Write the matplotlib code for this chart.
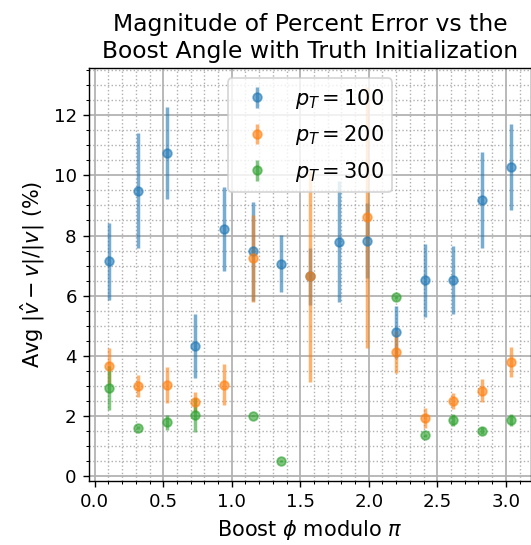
import numpy as np
import matplotlib
matplotlib.use("Agg")
import matplotlib.pyplot as plt

# boost angle bin centres (phi mod pi)
phi_bins = [0.105, 0.314, 0.524, 0.733, 0.942, 1.152, 1.361, 1.571,
            1.780, 1.990, 2.199, 2.409, 2.618, 2.827, 3.037]

nan = np.nan

# mean percent error and spread per pT sample
err_pt100 = [7.14, 9.49, 10.74, 4.33, 8.22, 7.47, 7.07, 6.64,
             7.80, 7.83, 4.79, 6.51, 6.51, 9.19, 10.28]
std_pt100 = [1.28, 1.90, 1.54, 1.07, 1.39, 1.63, 0.96, 0.95,
             2.00, 1.25, 0.87, 1.20, 1.13, 1.60, 1.42]

err_pt200 = [3.67, 3.01, 3.04, 2.48, 3.04, 7.24, nan, 6.65,
             nan, 8.60, 4.13, 1.95, 2.51, 2.84, 3.80]
std_pt200 = [0.60, 0.37, 0.60, 0.33, 0.68, 1.45, nan, 3.50,
             nan, 4.34, 0.69, 0.33, 0.27, 0.38, 0.50]

err_pt300 = [2.94, 1.62, 1.79, 2.05, nan, 2.02, 0.50, nan,
             nan, nan, 5.95, 1.36, 1.88, 1.52, 1.88]
std_pt300 = [0.73, 0.06, 0.25, 0.56, nan, 0.03, 0.03, nan,
             nan, nan, 0.05, 0.05, 0.20, 0.12, 0.20]

labels = [r'$p_T = 100$', r'$p_T = 200$', r'$p_T = 300$']

fig = plt.figure(figsize=(531 / 125, 545 / 125), dpi=125)
ax = fig.add_axes([89 / 531, 64 / 545, 442 / 531, 413 / 545])

for vals, errs, lab in zip([err_pt100, err_pt200, err_pt300],
                           [std_pt100, std_pt200, std_pt300], labels):
    ax.errorbar(phi_bins, vals, yerr=errs, fmt='o', markersize=5,
                elinewidth=2, alpha=0.6, label=lab)

ax.minorticks_on()
ax.grid(which='major', linewidth=1.0)
ax.grid(which='minor', linestyle=':', linewidth=0.8)
ax.set_axisbelow(True)
ax.tick_params(labelsize=10.5)

ax.set_title('Magnitude of Percent Error vs the\nBoost Angle with Truth Initialization',
             fontsize=13.5, pad=6)
ax.set_xlabel(r'Boost $\phi$ modulo $\pi$', fontsize=12)
ax.set_ylabel(r'Avg $|\hat{v}-v|/|v|$ (%)', fontsize=12)
ax.legend(loc='upper center', fontsize=12, labelspacing=0.6)

fig.savefig('out.png', dpi=125)
